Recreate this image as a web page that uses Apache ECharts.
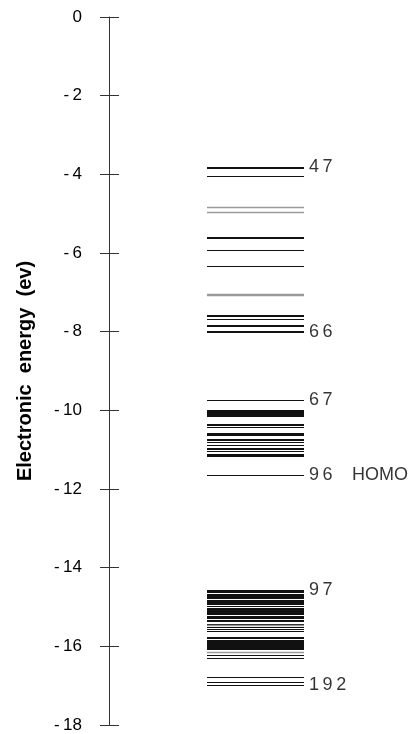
<!DOCTYPE html>
<html>
<head>
<meta charset="utf-8">
<script src="https://cdn.jsdelivr.net/npm/echarts@6/dist/echarts.min.js"></script>
<style>
  html, body { margin: 0; padding: 0; background: #fff; }
  #chart { width: 418px; height: 734px; }
</style>
</head>
<body>
<div id="chart"></div>
<script>
// orbital energies (eV); degenerate levels repeated
const levels47to66 = [
  -3.82, -3.83, -4.04, -4.82, -4.95, -5.60, -5.61, -5.92, -6.32, -7.05,
  -7.07, -7.57, -7.59, -7.61, -7.69, -7.84, -7.85, -7.99, -8.00, -8.01
]
const levels67to96 = [
  -9.73, -9.74, -10.00, -10.02, -10.04, -10.06, -10.08, -10.10, -10.12, -10.14,
  -10.36, -10.37, -10.43, -10.58, -10.60, -10.62, -10.74, -10.75, -10.81, -10.88,
  -10.89, -10.97, -10.98, -11.03, -11.04, -11.10, -11.11, -11.14, -11.15, -11.65
]
const levels97to192 = [
  -14.57, -14.57, -14.60, -14.62, -14.62, -14.66, -14.66, -14.69, -14.69, -14.72,
  -14.72, -14.75, -14.75, -14.78, -14.81, -14.81, -14.83, -14.83, -14.86, -14.86,
  -14.88, -14.88, -14.91, -14.91, -14.93, -14.93, -14.97, -14.97, -15.02, -15.05,
  -15.05, -15.08, -15.08, -15.10, -15.10, -15.13, -15.13, -15.16, -15.16, -15.19,
  -15.19, -15.22, -15.22, -15.25, -15.25, -15.29, -15.29, -15.33, -15.36, -15.36,
  -15.42, -15.42, -15.46, -15.50, -15.50, -15.57, -15.57, -15.61,
  -15.77, -15.77, -15.77, -15.80, -15.84, -15.84, -15.84, -15.86, -15.86, -15.86,
  -15.89, -15.89, -15.89, -15.91, -15.91, -15.91, -15.94, -15.94, -15.94, -15.96,
  -15.96, -15.96, -15.99, -15.99, -15.99, -16.01, -16.01, -16.01, -16.04, -16.04,
  -16.04, -16.08, -16.15, -16.21, -16.29,
  -16.78, -16.90, -16.98
]
const grayLevels = [-4.82, -4.95, -7.05, -7.07, -15.46, -16.15]

const labelNames = ['47', '66', '67', '96', '97', '192']
const labelEnergies = [-3.82, -8.00, -9.73, -11.65, -14.57, -16.98]
const homoEnergy = -11.65

const allLevels = levels47to66.concat(levels67to96, levels97to192)

const chart = echarts.init(document.getElementById('chart'))

const yBase = {
  type: 'value',
  min: -18,
  max: 0,
  interval: 2,
  position: 'left'
}

chart.setOption({
  animation: false,
  backgroundColor: '#fff',
  textStyle: { fontFamily: 'Liberation Sans, Arial, sans-serif' },
  grid: { left: 109, right: 9, top: 17, bottom: 9 },
  xAxis: { type: 'value', min: 0, max: 300, show: false },
  yAxis: [
    Object.assign({}, yBase, {
      name: 'Electronic  energy  (ev)',
      nameLocation: 'middle',
      nameGap: 74,
      nameRotate: 90,
      nameTextStyle: { color: '#000', fontSize: 20, fontWeight: 'bold', fontFamily: 'Liberation Sans' },
      axisLine: { show: true, lineStyle: { color: '#333', width: 1 } },
      axisTick: { show: true, length: 9, lineStyle: { color: '#333' } },
      splitLine: { show: false },
      axisLabel: {
        margin: 27,
        color: '#000',
        fontSize: 17,
        fontFamily: 'Liberation Sans',
        formatter: (v) => (v === 0 ? '0' : '-\u2009' + Math.abs(v))
      }
    }),
    Object.assign({}, yBase, {
      axisLine: { show: false },
      axisTick: { show: true, inside: true, length: 10, lineStyle: { color: '#333' } },
      splitLine: { show: false },
      axisLabel: { show: false }
    })
  ],
  series: [
    {
      type: 'custom',
      coordinateSystem: 'cartesian2d',
      data: allLevels.map((e) => [e]),
      encode: { y: 0 },
      renderItem: (params, api) => {
        const e = api.value(0)
        const p0 = api.coord([98, e])
        const p1 = api.coord([195, e])
        const y = Math.round(p0[1]) + 0.5
        const gray = grayLevels.indexOf(e) >= 0
        return {
          type: 'line',
          shape: { x1: p0[0], y1: y, x2: p1[0], y2: y },
          style: { stroke: gray ? '#9a9a9a' : '#111', lineWidth: gray ? 1.5 : 1 }
        }
      }
    },
    {
      type: 'scatter',
      symbolSize: 0,
      data: labelNames.map((n, i) => ({ value: [198, labelEnergies[i]], name: n })),
      label: {
        show: true,
        position: 'right',
        distance: 2,
        color: '#000',
        fontSize: 18,
        fontFamily: 'Liberation Sans',
        formatter: (p) => p.name.split('').join('\u2009')
      }
    },
    {
      type: 'scatter',
      symbolSize: 0,
      data: [{ value: [241, homoEnergy], name: 'HOMO' }],
      label: {
        show: true,
        position: 'right',
        distance: 2,
        color: '#000',
        fontSize: 18,
        fontFamily: 'Liberation Sans',
        formatter: (p) => p.name
      }
    }
  ]
})
</script>
</body>
</html>
